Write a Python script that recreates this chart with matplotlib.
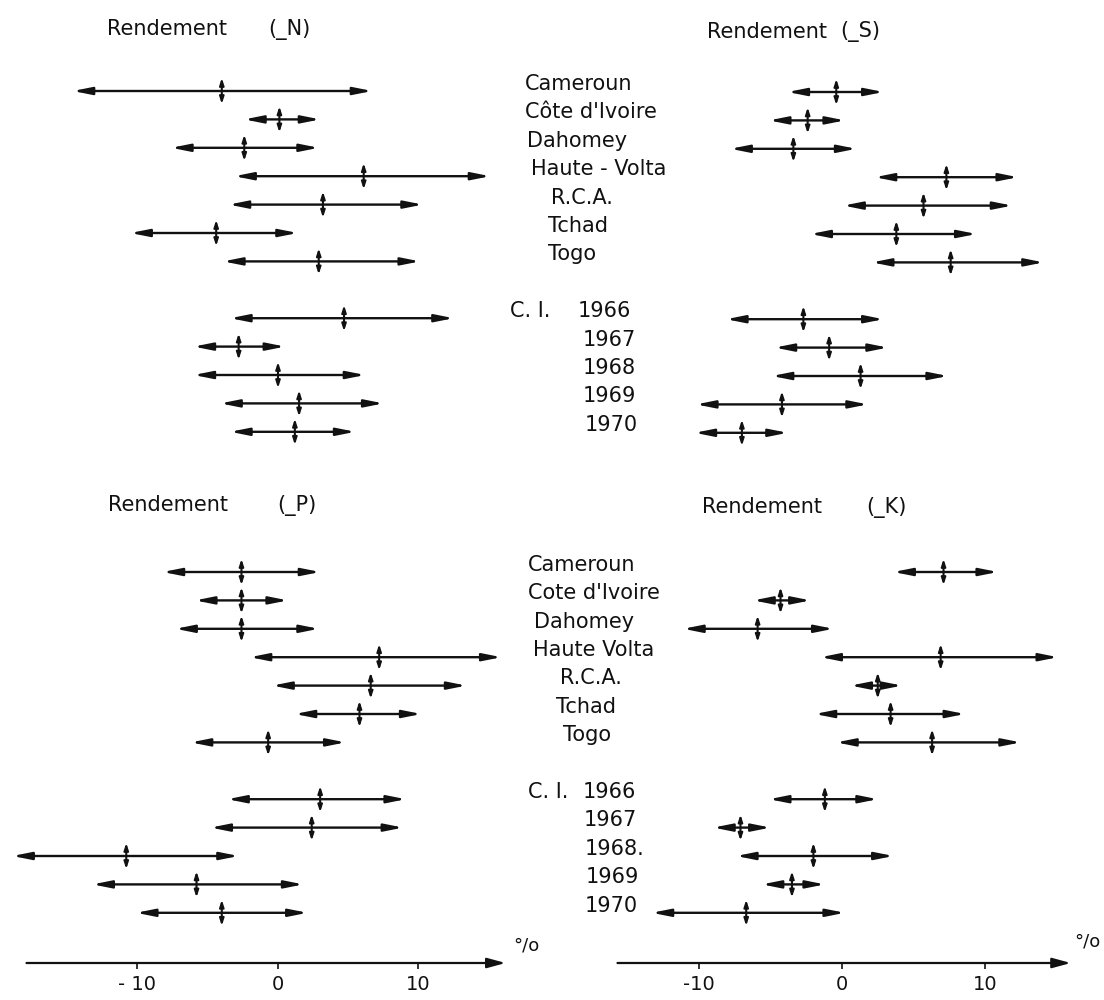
import matplotlib
matplotlib.use("Agg")
import matplotlib.pyplot as plt
from matplotlib.transforms import blended_transform_factory

# rows: 7 countries, gap, then 5 years of Côte d'Ivoire
ROWS = [0, 1, 2, 3, 4, 5, 6, 8, 9, 10, 11, 12]

TOP_LABELS = ["Cameroun", "Côte d'Ivoire", "Dahomey", "Haute - Volta", "R.C.A.",
              "Tchad", "Togo", "1966", "1967", "1968", "1969", "1970"]
BOTTOM_LABELS = ["Cameroun", "Cote d'Ivoire", "Dahomey", "Haute Volta", "R.C.A.",
                 "Tchad", "Togo", "1966", "1967", "1968.", "1969", "1970"]

# Rendement (-N)
N_LOW = [-14.6, -2.4, -7.6, -3.1, -3.5, -10.5, -3.9, -3.4, -6.0, -6.0, -4.1, -3.4]
N_MID = [-4.0, 0.1, -2.4, 6.1, 3.2, -4.4, 2.9, 4.7, -2.8, 0.0, 1.5, 1.2]
N_HIGH = [6.7, 3.0, 2.9, 15.1, 10.3, 1.4, 10.1, 12.5, 0.5, 6.2, 7.5, 5.5]

# Rendement (-S)
S_LOW = [-3.8, -5.1, -7.8, 2.3, 0.1, -2.2, 2.1, -8.1, -4.7, -4.9, -10.2, -10.3]
S_MID = [-0.4, -2.4, -3.4, 7.3, 5.7, 3.8, 7.6, -2.7, -0.9, 1.3, -4.2, -7.0]
S_HIGH = [2.9, 0.2, 1.0, 12.3, 11.9, 9.4, 14.1, 2.9, 3.2, 7.4, 1.8, -3.8]

# Rendement (-P)
P_LOW = [-8.2, -5.9, -7.3, -2.0, -0.4, 1.2, -6.2, -3.6, -4.8, -18.9, -13.2, -10.1]
P_MID = [-2.6, -2.6, -2.6, 7.2, 6.6, 5.8, -0.7, 3.0, 2.4, -10.8, -5.8, -4.0]
P_HIGH = [3.0, 0.7, 2.9, 15.9, 13.4, 10.2, 4.8, 9.1, 8.9, -2.8, 1.8, 2.1]

# Rendement (-K)
K_LOW = [3.6, -6.2, -11.1, -1.5, 0.6, -1.9, -0.4, -5.1, -9.0, -7.4, -5.6, -13.3]
K_MID = [7.1, -4.3, -5.9, 6.9, 2.5, 3.4, 6.3, -1.2, -7.1, -2.0, -3.5, -6.7]
K_HIGH = [10.9, -2.2, -0.6, 15.1, 4.2, 8.6, 12.5, 2.5, -5.0, 3.6, -1.2, 0.2]

TICKS = [-10, 0, 10]
LEFT_TICKLABELS = ["- 10", "0", "10"]
RIGHT_TICKLABELS = ["-10", "0", "10"]

W, H = 1104, 1000
FS = 15
INK = "#111111"

fig = plt.figure(figsize=(W / 100, H / 100), dpi=100)


def make_axes(x0, x1, y0, y1, zero_px, px_unit, row0_px, row_px):
    ax = fig.add_axes([x0 / W, 1 - y1 / H, (x1 - x0) / W, (y1 - y0) / H])
    ax.set_xlim((x0 - zero_px) / px_unit, (x1 - zero_px) / px_unit)
    ax.set_ylim((y1 - row0_px) / row_px, (y0 - row0_px) / row_px)
    for s in ax.spines.values():
        s.set_visible(False)
    ax.set_xticks([])
    ax.set_yticks([])
    ax.patch.set_alpha(0)
    return ax


def draw_ranges(ax, low, mid, high):
    for r, lo, m, hi in zip(ROWS, low, mid, high):
        ax.annotate("", xy=(hi, r), xytext=(lo, r), annotation_clip=False,
                    arrowprops=dict(arrowstyle="<|-|>,head_length=1.1,head_width=0.22",
                                    mutation_scale=10, lw=1.7, color=INK,
                                    shrinkA=0, shrinkB=0))
        # small vertical double arrow marking the mean
        ax.annotate("", xy=(m, r - 0.46), xytext=(m, r + 0.46), annotation_clip=False,
                    arrowprops=dict(arrowstyle="<|-|>,head_length=0.4,head_width=0.13",
                                    mutation_scale=10, lw=1.5, color=INK,
                                    shrinkA=0, shrinkB=0))


def draw_axis(ax, lo, hi, ticklabels):
    ybase = ax.get_ylim()[0]
    ax.annotate("", xy=(hi, ybase), xytext=(lo, ybase), annotation_clip=False,
                arrowprops=dict(arrowstyle="-|>,head_length=1.1,head_width=0.3",
                                mutation_scale=10, lw=1.6, color=INK,
                                shrinkA=0, shrinkB=0))
    ax.set_xticks(TICKS)
    ax.set_xticklabels(ticklabels, fontsize=14, color=INK)
    ax.tick_params(axis="x", direction="out", length=4, width=1.2, pad=5, colors=INK)


def put_labels(ax, labels, xs, ci_x):
    tr = blended_transform_factory(fig.transFigure, ax.transData)
    for r, lab, x in zip(ROWS, labels, xs):
        ax.text(x / W, r - 0.25, lab, transform=tr, fontsize=FS, color=INK,
                ha="left", va="center", clip_on=False)
    ax.text(ci_x / W, ROWS[7] - 0.25, "C. I.", transform=tr, fontsize=FS, color=INK,
            ha="left", va="center", clip_on=False)


def title(x1, x2, y, tag):
    fig.text(x1 / W, 1 - y / H, "Rendement", fontsize=FS, color=INK, ha="left", va="center")
    fig.text(x2 / W, 1 - y / H, "(_" + tag + ")", fontsize=FS, color=INK, ha="left", va="center")


# panels (pixel layout of the scanned figure)
ax_n = make_axes(0, 540, 60, 455, 278, 14.05, 91, 28.4)
ax_s = make_axes(560, 1104, 60, 455, 842, 14.3, 92, 28.4)
ax_p = make_axes(0, 540, 540, 963, 278, 14.05, 572, 28.4)
ax_k = make_axes(560, 1104, 540, 963, 842, 14.3, 572, 28.4)

draw_ranges(ax_n, N_LOW, N_MID, N_HIGH)
draw_ranges(ax_s, S_LOW, S_MID, S_HIGH)
draw_ranges(ax_p, P_LOW, P_MID, P_HIGH)
draw_ranges(ax_k, K_LOW, K_MID, K_HIGH)

draw_axis(ax_p, -17.9, 16.2, LEFT_TICKLABELS)
draw_axis(ax_k, -15.7, 16.0, RIGHT_TICKLABELS)

put_labels(ax_n, TOP_LABELS, [525, 525, 527, 531, 551, 548, 548, 578, 583, 583, 583, 585], 510)
put_labels(ax_p, BOTTOM_LABELS, [528, 528, 534, 533, 560, 556, 563, 583, 584, 585, 586, 585], 528)

title(107, 268, 29, "N")
title(707, 840, 32, "S")
title(108, 277, 505, "P")
title(702, 866, 507, "K")

fig.text(513 / W, 1 - 945 / H, "°/o", fontsize=13, color=INK, ha="left", va="center")
fig.text(1074 / W, 1 - 941 / H, "°/o", fontsize=13, color=INK, ha="left", va="center")

fig.savefig("out.png", dpi=100, facecolor="white")
